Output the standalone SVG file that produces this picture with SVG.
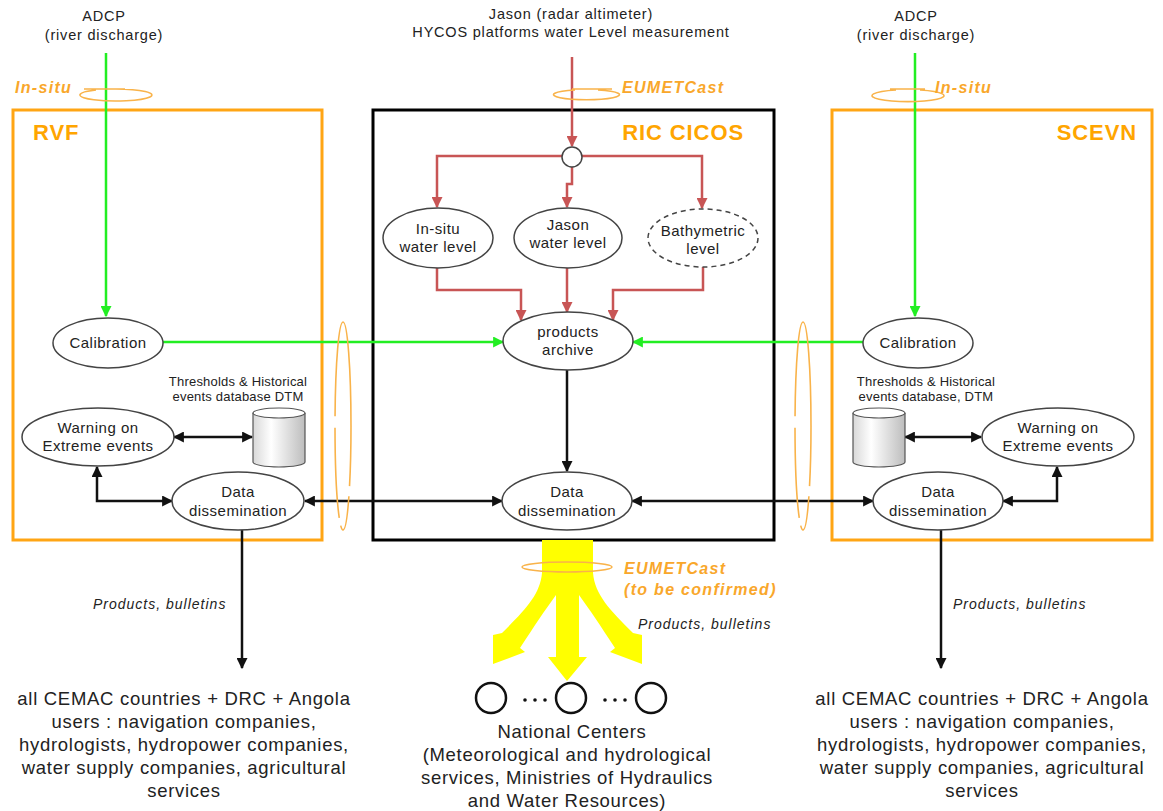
<svg xmlns="http://www.w3.org/2000/svg" width="1163" height="811" viewBox="0 0 1163 811">
  <style>
    text { font-family: "Liberation Sans", Arial, sans-serif; fill: #222; }
    .src { font-size: 14.5px; letter-spacing: 0.8px; }
    .lbl { font-size: 15px; letter-spacing: 0.5px; text-anchor: middle; }
    .db { font-size: 13px; letter-spacing: 0.2px; text-anchor: middle; }
    .users { font-size: 18.5px; letter-spacing: 0.7px; text-anchor: middle; }
    .pb { font-size: 14px; font-style: italic; letter-spacing: 1px; }
    .net { font-size: 16px; font-style: italic; font-weight: bold; letter-spacing: 1.3px; fill: #F9A72B; }
    .title { font-size: 22px; font-weight: bold; letter-spacing: 0.9px; fill: #FFA500; }
    .node { fill: #fff; stroke: #444; stroke-width: 1.5; }
    .box-o { fill: none; stroke: #FFA514; stroke-width: 3; }
    .box-k { fill: none; stroke: #000; stroke-width: 3; }
    .red { fill: none; stroke: #C85555; stroke-width: 2.5; }
    .grn { fill: none; stroke: #22EE22; stroke-width: 2.5; }
    .blk { fill: none; stroke: #111; stroke-width: 2.5; }
    .loop { fill: none; stroke: #F9B34A; stroke-width: 1.6; }
  </style>
  <defs>
    <marker id="ah-r" viewBox="0 0 10 10" refX="9" refY="5" markerWidth="11" markerHeight="11" markerUnits="userSpaceOnUse" orient="auto-start-reverse">
      <path d="M0,0 L10,5 L0,10 z" fill="#C85555"/>
    </marker>
    <marker id="ah-g" viewBox="0 0 10 10" refX="9" refY="5" markerWidth="11" markerHeight="11" markerUnits="userSpaceOnUse" orient="auto-start-reverse">
      <path d="M0,0 L10,5 L0,10 z" fill="#22EE22"/>
    </marker>
    <marker id="ah-k" viewBox="0 0 10 10" refX="9" refY="5" markerWidth="11" markerHeight="11" markerUnits="userSpaceOnUse" orient="auto-start-reverse">
      <path d="M0,0 L10,5 L0,10 z" fill="#111"/>
    </marker>
    <linearGradient id="cyl" x1="0" y1="0" x2="1" y2="0">
      <stop offset="0" stop-color="#d8d8d8"/>
      <stop offset="0.35" stop-color="#ffffff"/>
      <stop offset="1" stop-color="#bdbdbd"/>
    </linearGradient>
  </defs>

  <!-- organisation frames -->
  <g id="rvf">
    <rect class="box-o" x="13" y="110" width="309" height="430"/>
    <text class="title" x="33" y="140">RVF</text>
  </g>
  <g id="ric-cicos">
    <rect class="box-k" x="373" y="110" width="401" height="430"/>
    <text class="title" x="744" y="140" text-anchor="end">RIC CICOS</text>
  </g>
  <g id="scevn">
    <rect class="box-o" x="832" y="110" width="320" height="430"/>
    <text class="title" x="1137" y="140" text-anchor="end">SCEVN</text>
  </g>

  <!-- data sources -->
  <g id="adcp-left">
    <text class="src" x="104" y="21" text-anchor="middle">ADCP</text>
    <text class="src" x="104" y="40" text-anchor="middle">(river discharge)</text>
  </g>
  <g id="adcp-right">
    <text class="src" x="916" y="21" text-anchor="middle">ADCP</text>
    <text class="src" x="916" y="40" text-anchor="middle">(river discharge)</text>
  </g>
  <g id="jason-src">
    <text class="src" x="571" y="19" text-anchor="middle">Jason  (radar altimeter)</text>
    <text class="src" x="571" y="37" text-anchor="middle">HYCOS platforms water Level measurement</text>
  </g>

  <!-- connectors -->
  <g id="connectors">
    <!-- in-situ discharge feeds -->
    <path class="grn" d="M106,53 V316" marker-end="url(#ah-g)"/>
    <path class="grn" d="M915,53 V316" marker-end="url(#ah-g)"/>
    <!-- calibration to archive -->
    <path class="grn" d="M163,342 H503" marker-end="url(#ah-g)"/>
    <path class="grn" d="M863,342 H633" marker-end="url(#ah-g)"/>
    <!-- satellite / platform feed -->
    <path class="red" d="M572,57 V146" marker-end="url(#ah-r)"/>
    <path class="red" d="M562,156 H437 V207" marker-end="url(#ah-r)"/>
    <path class="red" d="M572,167 V184 H567 V207" marker-end="url(#ah-r)"/>
    <path class="red" d="M582,156 H702 V208" marker-end="url(#ah-r)"/>
    <path class="red" d="M437,268 V290 H521 V320" marker-end="url(#ah-r)"/>
    <path class="red" d="M567,268 V312" marker-end="url(#ah-r)"/>
    <path class="red" d="M703,267 V290 H613 V320" marker-end="url(#ah-r)"/>
    <!-- archive to dissemination -->
    <path class="blk" d="M567,370 V471" marker-end="url(#ah-k)"/>
    <!-- dissemination exchanges -->
    <path class="blk" d="M305,501 H502" marker-start="url(#ah-k)" marker-end="url(#ah-k)"/>
    <path class="blk" d="M632,501 H873" marker-start="url(#ah-k)" marker-end="url(#ah-k)"/>
    <path class="blk" d="M172,501 H97 V467" marker-start="url(#ah-k)" marker-end="url(#ah-k)"/>
    <path class="blk" d="M1003,501 H1057 V467" marker-start="url(#ah-k)" marker-end="url(#ah-k)"/>
    <!-- warning to database -->
    <path class="blk" d="M174,437 H252" marker-start="url(#ah-k)" marker-end="url(#ah-k)"/>
    <path class="blk" d="M905,437 H981" marker-start="url(#ah-k)" marker-end="url(#ah-k)"/>
    <!-- outputs to users -->
    <path class="blk" d="M242,530 V668" marker-end="url(#ah-k)"/>
    <path class="blk" d="M941,530 V668" marker-end="url(#ah-k)"/>
    <!-- broadcast to national centers: one trunk splitting into three broad arrows -->
    <path fill="#FFFF00" d="M542,540 H593 V573 C595,595 610,610 633,633 L642,635 L642,664 L610,652 L615,648 C600,625 590,610 579,595 V657 H587 L567,681 L548,657 H556 V595 C545,610 535,625 520,648 L525,652 L493,664 L493,635 L502,633 C525,610 540,595 542,573 Z"/>
  </g>

  <!-- transmission channels -->
  <g id="channels">
    <path class="loop" d="M96,90 A36,6 0 1 0 116,89 M84,89 H125"/>
    <text class="net" x="15" y="93">In-situ</text>
    <path class="loop" d="M575,90 A33,5 0 1 0 598,90 M572,89 H612"/>
    <text class="net" x="622" y="93">EUMETCast</text>
    <path class="loop" d="M896,90 A36,6 0 1 0 920,90 M890,89 H925"/>
    <text class="net" x="935" y="93">In-situ</text>
    <ellipse class="loop" cx="343" cy="426" rx="8" ry="104" stroke-dasharray="60 10 40 8 90 12 200"/>
    <ellipse class="loop" cx="803" cy="426" rx="8" ry="104" stroke-dasharray="60 10 40 8 90 12 200"/>
    <ellipse class="loop" cx="567" cy="567" rx="45" ry="5"/>
    <text class="net" x="624" y="574">EUMETCast</text>
    <text class="net" x="624" y="595">(to be confirmed)</text>
  </g>

  <!-- RIC CICOS nodes -->
  <g id="junction"><circle class="node" cx="572" cy="157" r="10"/></g>
  <g id="insitu-level">
    <ellipse class="node" cx="438" cy="238" rx="55" ry="30"/>
    <text class="lbl" x="438" y="234">In-situ</text>
    <text class="lbl" x="438" y="252">water level</text>
  </g>
  <g id="jason-level">
    <ellipse class="node" cx="568" cy="238" rx="54" ry="30"/>
    <text class="lbl" x="568" y="230">Jason</text>
    <text class="lbl" x="568" y="248">water level</text>
  </g>
  <g id="bathymetric-level">
    <ellipse class="node" cx="703" cy="238" rx="55" ry="29" stroke-dasharray="5 4"/>
    <text class="lbl" x="703" y="236">Bathymetric</text>
    <text class="lbl" x="703" y="254">level</text>
  </g>
  <g id="products-archive">
    <ellipse class="node" cx="568" cy="341" rx="65" ry="29"/>
    <text class="lbl" x="568" y="337">products</text>
    <text class="lbl" x="568" y="355">archive</text>
  </g>
  <g id="dissemination-center">
    <ellipse class="node" cx="567" cy="501" rx="65" ry="29"/>
    <text class="lbl" x="567" y="497">Data</text>
    <text class="lbl" x="567" y="516">dissemination</text>
  </g>

  <!-- RVF nodes -->
  <g id="calibration-left">
    <ellipse class="node" cx="108" cy="343" rx="55" ry="25"/>
    <text class="lbl" x="108" y="348">Calibration</text>
  </g>
  <g id="db-left">
    <text class="db" x="238" y="386">Thresholds &amp; Historical</text>
    <text class="db" x="238" y="401">events database DTM</text>
    <path d="M253,413 V462 A26,5 0 0 0 305,462 V413" fill="url(#cyl)" stroke="#555" stroke-width="1.2"/>
    <ellipse cx="279" cy="413" rx="26" ry="5" fill="#fff" stroke="#555" stroke-width="1.2"/>
  </g>
  <g id="warning-left">
    <ellipse class="node" cx="98" cy="437" rx="76" ry="29"/>
    <text class="lbl" x="98" y="433">Warning on</text>
    <text class="lbl" x="98" y="451">Extreme events</text>
  </g>
  <g id="dissemination-left">
    <ellipse class="node" cx="238" cy="501" rx="66" ry="29"/>
    <text class="lbl" x="238" y="497">Data</text>
    <text class="lbl" x="238" y="516">dissemination</text>
  </g>

  <!-- SCEVN nodes -->
  <g id="calibration-right">
    <ellipse class="node" cx="918" cy="343" rx="55" ry="25"/>
    <text class="lbl" x="918" y="348">Calibration</text>
  </g>
  <g id="db-right">
    <text class="db" x="926" y="386">Thresholds &amp; Historical</text>
    <text class="db" x="926" y="401">events database, DTM</text>
    <path d="M853,413 V462 A26,5 0 0 0 905,462 V413" fill="url(#cyl)" stroke="#555" stroke-width="1.2"/>
    <ellipse cx="879" cy="413" rx="26" ry="5" fill="#fff" stroke="#555" stroke-width="1.2"/>
  </g>
  <g id="warning-right">
    <ellipse class="node" cx="1058" cy="437" rx="76" ry="29"/>
    <text class="lbl" x="1058" y="433">Warning on</text>
    <text class="lbl" x="1058" y="451">Extreme events</text>
  </g>
  <g id="dissemination-right">
    <ellipse class="node" cx="938" cy="501" rx="65" ry="29"/>
    <text class="lbl" x="938" y="497">Data</text>
    <text class="lbl" x="938" y="516">dissemination</text>
  </g>

  <!-- output labels -->
  <text class="pb" x="93" y="609">Products, bulletins</text>
  <text class="pb" x="953" y="609">Products, bulletins</text>
  <text class="pb" x="638" y="629">Products, bulletins</text>

  <!-- user groups -->
  <g id="users-left">
    <text class="users" x="184" y="705">all CEMAC countries + DRC + Angola</text>
    <text class="users" x="184" y="728">users : navigation companies,</text>
    <text class="users" x="184" y="751">hydrologists, hydropower companies,</text>
    <text class="users" x="184" y="774">water supply companies, agricultural</text>
    <text class="users" x="184" y="797">services</text>
  </g>
  <g id="users-right">
    <text class="users" x="982" y="705">all CEMAC countries + DRC + Angola</text>
    <text class="users" x="982" y="728">users : navigation companies,</text>
    <text class="users" x="982" y="751">hydrologists, hydropower companies,</text>
    <text class="users" x="982" y="774">water supply companies, agricultural</text>
    <text class="users" x="982" y="797">services</text>
  </g>

  <!-- national centers -->
  <g id="national-centers">
    <circle cx="491" cy="698" r="15" fill="none" stroke="#111" stroke-width="2.5"/>
    <circle cx="571" cy="698" r="15" fill="none" stroke="#111" stroke-width="2.5"/>
    <circle cx="651" cy="698" r="15" fill="none" stroke="#111" stroke-width="2.5"/>
    <g fill="#111">
      <circle cx="525" cy="700" r="1.8"/><circle cx="535" cy="700" r="1.8"/><circle cx="545" cy="700" r="1.8"/>
      <circle cx="605" cy="700" r="1.8"/><circle cx="615" cy="700" r="1.8"/><circle cx="625" cy="700" r="1.8"/>
    </g>
    <text class="users" x="572" y="738">National Centers</text>
    <text class="users" x="567" y="761">(Meteorological and hydrological</text>
    <text class="users" x="567" y="784">services, Ministries of Hydraulics</text>
    <text class="users" x="567" y="807">and Water Resources)</text>
  </g>
</svg>
